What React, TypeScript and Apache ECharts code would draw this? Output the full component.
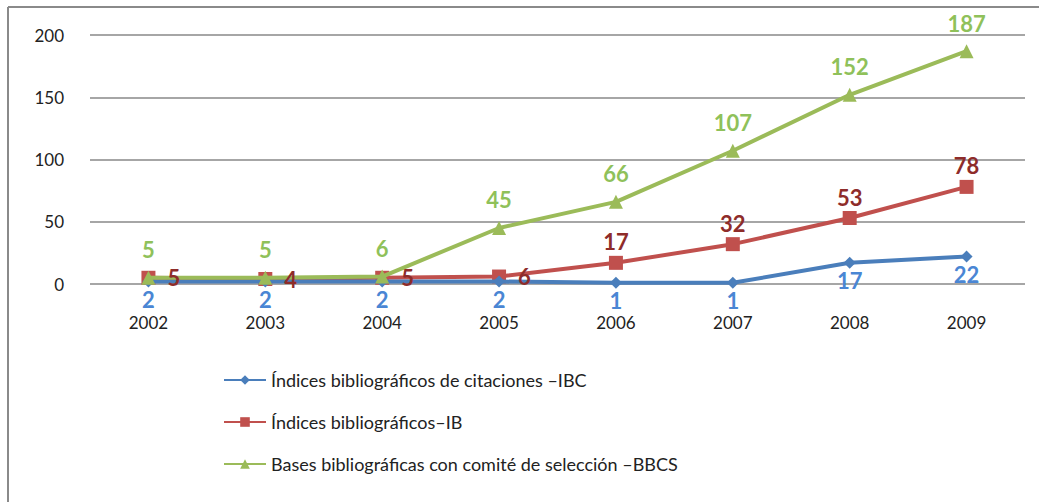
import React, { useEffect, useRef } from "react";
import * as echarts from "echarts";

const years = ["2002", "2003", "2004", "2005", "2006", "2007", "2008", "2009"];
const ibc = [2, 2, 2, 2, 1, 1, 17, 22];
const ib = [5, 4, 5, 6, 17, 32, 53, 78];
const bbcs = [5, 5, 6, 45, 66, 107, 152, 187];
const ibLabelPos = ["right", "right", "right", "right", "top", "top", "top", "top"];

const names = [
  "Índices bibliográficos de citaciones –IBC",
  "Índices bibliográficos–IB",
  "Bases bibliográficas con comité de selección –BBCS",
];

export default function App() {
  const ref = useRef<HTMLDivElement>(null);
  useEffect(() => {
    document.body.style.margin = "0";
    const chart = echarts.init(ref.current!, null, { renderer: "svg" });
    const font = "Lato, 'Noto Sans', sans-serif";
    const redLabel = { show: true, color: "#8e2c2a", fontSize: 22, fontWeight: "bold", fontFamily: font };
    chart.setOption({
      animation: false,
      backgroundColor: "#ffffff",
      textStyle: { fontFamily: font },
      graphic: [
        { type: "line", shape: { x1: 8, y1: 7, x2: 1039, y2: 7 }, style: { stroke: "#8a8a8a", lineWidth: 2 } },
        { type: "line", shape: { x1: 8, y1: 7, x2: 8, y2: 502 }, style: { stroke: "#8a8a8a", lineWidth: 2 } },
      ],
      grid: { left: 90, right: 14, top: 35, bottom: 218, containLabel: false },
      legend: {
        orient: "vertical",
        left: 218,
        top: 366,
        itemGap: 24,
        itemWidth: 42,
        itemHeight: 12,
        textStyle: { fontSize: 18, color: "#222", fontFamily: font },
        data: names,
      },
      xAxis: {
        type: "category",
        data: years,
        boundaryGap: true,
        axisLine: { show: false },
        axisTick: { show: false },
        axisLabel: { fontSize: 17, color: "#222", margin: 30, fontFamily: font },
      },
      yAxis: {
        type: "value",
        min: 0,
        max: 200,
        interval: 50,
        axisLine: { show: false },
        axisTick: { show: false },
        axisLabel: { fontSize: 17, color: "#222", margin: 26, fontFamily: font },
        splitLine: { lineStyle: { color: "#888", width: 1.5 } },
      },
      series: [
        {
          name: names[0],
          type: "line",
          data: ibc,
          symbol: "diamond",
          symbolSize: 12,
          z: 3,
          lineStyle: { color: "#4a7ebb", width: 4 },
          itemStyle: { color: "#4a7ebb" },
          label: { show: true, position: "bottom", distance: 1, color: "#4a86d4", fontSize: 22, fontWeight: "bold", fontFamily: font },
        },
        {
          name: names[1],
          type: "line",
          data: ib,
          symbol: "rect",
          symbolSize: 14,
          z: 2,
          lineStyle: { color: "#c0504d", width: 4 },
          itemStyle: { color: "#c0504d" },
          label: { show: false },
        },
        {
          name: names[2],
          type: "line",
          data: bbcs,
          symbol: "triangle",
          symbolSize: 14,
          z: 4,
          lineStyle: { color: "#9bbb59", width: 4 },
          itemStyle: { color: "#9bbb59" },
          label: { show: true, position: "top", distance: 10, color: "#8fc15a", fontSize: 22, fontWeight: "bold", fontFamily: font },
        },
        {
          name: "IB-labels",
          type: "line",
          data: ib.map((v, i) => ({
            value: v,
            label: ibLabelPos[i] === "right" ? { position: "right", distance: 12 } : { position: "top", distance: 3 },
          })),
          symbol: "rect",
          symbolSize: 14,
          z: 10,
          silent: true,
          lineStyle: { width: 0, opacity: 0 },
          itemStyle: { color: "rgba(0,0,0,0)" },
          label: { ...redLabel, position: "top", distance: 3 },
        },
      ],
    });
    return () => chart.dispose();
  }, []);
  return <div ref={ref} style={{ width: 1039, height: 502 }} />;
}
